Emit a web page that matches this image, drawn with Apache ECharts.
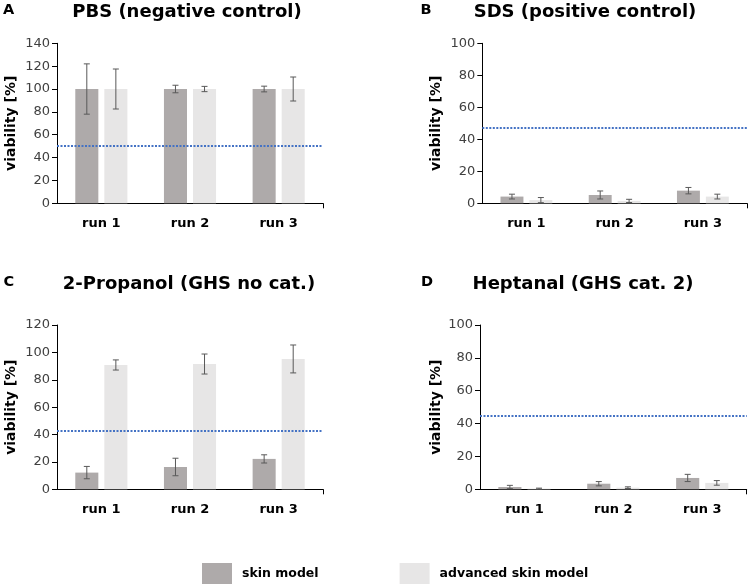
<!DOCTYPE html>
<html>
<head>
<meta charset="utf-8">
<script src="https://cdn.jsdelivr.net/npm/echarts@6/dist/echarts.min.js"></script>
<style>
html,body{margin:0;padding:0;background:#fff;}
#chart{width:751px;height:586px;}
</style>
</head>
<body>
<div id="chart"></div>
<script>
// ---- data ----
const categories = ['run 1', 'run 2', 'run 3'];
const seriesNames = ['skin model', 'advanced skin model'];
const panelLetters = ['A', 'B', 'C', 'D'];
const panelTitles = ['PBS (negative control)', 'SDS (positive control)', '2-Propanol (GHS no cat.)', 'Heptanal (GHS cat. 2)'];
const yMaxValues = [140, 100, 120, 100];
const yInterval = 20;
const thresholds = [50, 47, 43, 45];

const skinA = [100, 100, 100];
const skinErrA = [22, 3.3, 2.5];
const advA = [100, 100, 100];
const advErrA = [17.5, 2.3, 10.5];

const skinB = [4.2, 5.2, 7.9];
const skinErrB = [1.5, 2.5, 2];
const advB = [2, 1.5, 4.2];
const advErrB = [1.6, 1, 1.5];

const skinC = [12.2, 16.3, 22.2];
const skinErrC = [4.5, 6.4, 3];
const advC = [90.8, 91.5, 95.2];
const advErrC = [3.7, 7.3, 10.2];

const skinD = [1.4, 3.4, 6.9];
const skinErrD = [1, 1.3, 2.2];
const advD = [0.4, 1, 3.9];
const advErrD = [0.3, 0.5, 1.4];

const skinVals = [skinA, skinB, skinC, skinD];
const skinErrs = [skinErrA, skinErrB, skinErrC, skinErrD];
const advVals = [advA, advB, advC, advD];
const advErrs = [advErrA, advErrB, advErrC, advErrD];

// ---- layout / style ----
const FONT = '"DejaVu Sans", sans-serif';
const DARK = '#aeaaaa';
const LIGHT = '#e7e6e6';
const ERR = '#595959';
const grids = [
  {left: 57, top: 43.3, width: 266, height: 160},
  {left: 482.3, top: 43.3, width: 264.7, height: 160},
  {left: 57, top: 325, width: 266, height: 164.3},
  {left: 480, top: 325, width: 266.7, height: 164.3}
];
const nameGaps = [39, 39, 39, 37];
const letterPos = [[3, 10], [420.5, 10], [3.5, 282], [421, 282]];
const titlePos = [[187, 12], [585, 12], [189, 284], [583, 284]];

const BAR_W = 0.26, BAR_GAP = 0.26;
const OFF = (BAR_W * 2 + BAR_W * BAR_GAP) / 2 - BAR_W / 2;

function errRender(sign) {
  return function (params, api) {
    const c = api.value(0), v = api.value(1), e = api.value(2);
    const band = api.size([1, 0])[0];
    const top = api.coord([c, v + e]);
    const bot = api.coord([c, Math.max(0, v - e)]);
    const x = top[0] + sign * band * OFF;
    const cap = 3;
    const st = {stroke: ERR, lineWidth: 1};
    return {
      type: 'group',
      children: [
        {type: 'line', shape: {x1: x, y1: top[1], x2: x, y2: bot[1]}, style: st},
        {type: 'line', shape: {x1: x - cap, y1: top[1], x2: x + cap, y2: top[1]}, style: st},
        {type: 'line', shape: {x1: x - cap, y1: bot[1], x2: x + cap, y2: bot[1]}, style: st}
      ]
    };
  };
}

const xAxes = [], yAxes = [], series = [], graphics = [];
grids.forEach((g, i) => {
  xAxes.push({
    type: 'category', gridIndex: i, data: categories,
    axisLine: {lineStyle: {color: '#000', width: 1}},
    axisTick: {alignWithLabel: true, length: 5, lineStyle: {color: '#000'}},
    axisLabel: {fontFamily: FONT, fontWeight: 'bold', fontSize: 13, color: '#000', margin: 14},
    splitLine: {show: false}
  });
  xAxes.push({
    type: 'value', gridIndex: i, position: 'bottom', min: 0, max: 3,
    axisLine: {show: false},
    axisTick: {show: true, length: 5, customValues: [3], lineStyle: {color: '#000'}},
    axisLabel: {show: false},
    splitLine: {show: false}
  });
  yAxes.push({
    type: 'value', gridIndex: i, min: 0, max: yMaxValues[i], interval: yInterval,
    name: 'viability [%]', nameLocation: 'middle', nameGap: nameGaps[i],
    nameTextStyle: {fontFamily: FONT, fontWeight: 'bold', fontSize: 14, color: '#000'},
    axisLine: {show: true, lineStyle: {color: '#000', width: 1}},
    axisTick: {show: true, length: 5, lineStyle: {color: '#000'}},
    axisLabel: {fontFamily: FONT, fontSize: 13, color: '#404040', margin: 7},
    splitLine: {show: false}
  });
  const xi = i * 2;
  series.push({
    name: seriesNames[0], type: 'bar', xAxisIndex: xi, yAxisIndex: i,
    data: skinVals[i], barWidth: (BAR_W * 100) + '%', barGap: (BAR_GAP * 100) + '%',
    itemStyle: {color: DARK}, silent: true
  });
  series.push({
    name: seriesNames[1], type: 'bar', xAxisIndex: xi, yAxisIndex: i,
    data: advVals[i], barWidth: (BAR_W * 100) + '%', barGap: (BAR_GAP * 100) + '%',
    itemStyle: {color: LIGHT}, silent: true,
    markLine: {
      symbol: 'none', silent: true, label: {show: false}, z: 10,
      lineStyle: {type: [2, 1.5], color: '#4472c4', width: 2},
      data: [{yAxis: thresholds[i]}]
    }
  });
  series.push({
    name: 'err-skin-' + i, type: 'custom', xAxisIndex: xi, yAxisIndex: i, z: 5,
    renderItem: errRender(-1), encode: {x: 0, y: 1}, silent: true,
    data: categories.map((c, j) => [j, skinVals[i][j], skinErrs[i][j]])
  });
  series.push({
    name: 'err-adv-' + i, type: 'custom', xAxisIndex: xi, yAxisIndex: i, z: 5,
    renderItem: errRender(1), encode: {x: 0, y: 1}, silent: true,
    data: categories.map((c, j) => [j, advVals[i][j], advErrs[i][j]])
  });
  graphics.push({
    type: 'text', x: letterPos[i][0], y: letterPos[i][1],
    style: {text: panelLetters[i], font: 'bold 14.5px ' + FONT, fill: '#000', textAlign: 'left', textVerticalAlign: 'middle'}
  });
  graphics.push({
    type: 'text', x: titlePos[i][0], y: titlePos[i][1],
    style: {text: panelTitles[i], font: 'bold 18px ' + FONT, fill: '#000', textAlign: 'center', textVerticalAlign: 'middle'}
  });
});

const chart = echarts.init(document.getElementById('chart'), null, {renderer: 'canvas'});
chart.setOption({
  animation: false,
  backgroundColor: '#fff',
  grid: grids.map(g => Object.assign({containLabel: false}, g)),
  xAxis: xAxes,
  yAxis: yAxes,
  series: series,
  graphic: graphics,
  legend: {
    data: seriesNames, left: 202, top: 563, orient: 'horizontal', padding: 0,
    icon: 'rect', itemWidth: 30, itemHeight: 21, itemGap: 81,
    selectedMode: false,
    textStyle: {fontFamily: FONT, fontWeight: 'bold', fontSize: 12.5, color: '#000', padding: [0, 0, 0, 5]}
  }
});
</script>
</body>
</html>
